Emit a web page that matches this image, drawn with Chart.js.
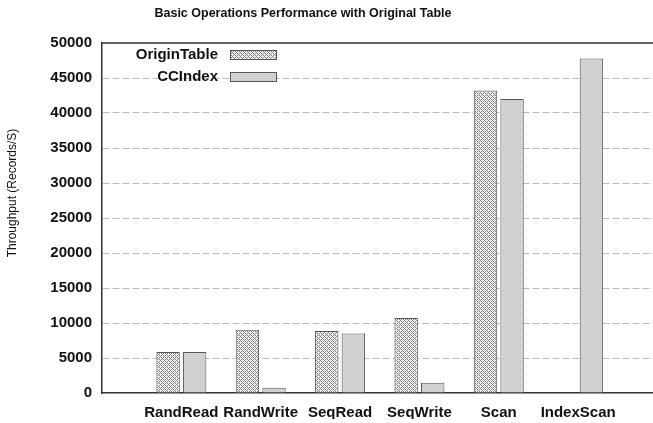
<!DOCTYPE html>
<html>
<head>
<meta charset="utf-8">
<script src="https://cdn.jsdelivr.net/npm/chart.js@4"></script>
<style>
  html, body { margin: 0; padding: 0; background: #fff; overflow: hidden; }
  #wrap { width: 668px; height: 423px; }
</style>
</head>
<body>
<div id="wrap"><canvas id="c" width="668" height="423"></canvas></div>
<script>
// Chart data
const chartTitle = 'Basic Operations Performance with Original Table';
const yTitle = 'Throughput (Records/S)';
const categories = ['RandRead', 'RandWrite', 'SeqRead', 'SeqWrite', 'Scan', 'IndexScan'];
const originTable = [5850, 9050, 8850, 10700, 43200, null];
const ccIndex = [5850, 750, 8500, 1450, 42000, 47800];
const yTicks = [0, 5000, 10000, 15000, 20000, 25000, 30000, 35000, 40000, 45000, 50000];

// x range runs one slot past the first and last category, like the original plot
const labels = ['', ...categories, ''];
const pad = arr => [null, ...arr, null];

// Fill patterns
function makePattern(size, draw) {
  const t = document.createElement('canvas');
  t.width = size; t.height = size;
  draw(t.getContext('2d'));
  return t.getContext('2d').createPattern(t, 'repeat');
}
const crossHatch = makePattern(4, g => {
  g.fillStyle = '#f2f2f2';
  g.fillRect(0, 0, 4, 4);
  g.fillStyle = '#808080';
  for (let x = 0; x < 4; x++) {
    for (let y = 0; y < 4; y++) {
      if ((x + y) % 4 === 0 || (x - y + 4) % 4 === 0) g.fillRect(x, y, 1, 1);
    }
  }
});
const stipple = makePattern(4, g => {
  g.fillStyle = '#d4d4d4';
  g.fillRect(0, 0, 4, 4);
  g.fillStyle = '#bdbdbd';
  g.fillRect(0, 0, 1, 1);
  g.fillRect(2, 2, 1, 1);
});

const font = (size, weight) => ({ family: '"Liberation Sans", Arial, sans-serif', size, weight });

// Titles, top frame line and in-plot legend
const extras = {
  id: 'extras',
  afterDraw(chart) {
    const { ctx, chartArea: a } = chart;
    ctx.save();
    ctx.fillStyle = '#111';
    ctx.font = 'bold 12.5px "Liberation Sans", Arial, sans-serif';
    ctx.textAlign = 'center';
    ctx.textBaseline = 'middle';
    ctx.fillText(chartTitle, 303, 14);

    // y axis title sits a bit above the plot's middle in the original
    ctx.save();
    ctx.translate(13, 193);
    ctx.rotate(-Math.PI / 2);
    ctx.font = '12px "Liberation Sans", Arial, sans-serif';
    ctx.fillText(yTitle, 0, 0);
    ctx.restore();

    ctx.strokeStyle = '#333';
    ctx.lineWidth = 1.5;
    ctx.beginPath();
    ctx.moveTo(a.left, a.top);
    ctx.lineTo(a.right, a.top);
    ctx.stroke();

    // legend: text on the left, swatch on the right
    ctx.font = 'bold 15px "Liberation Sans", Arial, sans-serif';
    ctx.textAlign = 'right';
    chart.data.datasets.forEach((ds, i) => {
      const y = 55 + i * 22;
      ctx.fillStyle = '#111';
      ctx.fillText(ds.label, 218, y);
      ctx.fillStyle = ds.backgroundColor;
      ctx.fillRect(230, y - 4.5, 46, 9);
      ctx.strokeStyle = '#555';
      ctx.lineWidth = 1;
      ctx.strokeRect(230.5, y - 4.5, 46, 9);
    });
    ctx.restore();
  }
};

new Chart(document.getElementById('c'), {
  type: 'bar',
  data: {
    labels: labels,
    datasets: [
      {
        label: 'OriginTable',
        data: pad(originTable),
        backgroundColor: crossHatch,
        borderColor: '#555',
        borderWidth: 1,
        categoryPercentage: 0.67,
        barPercentage: 0.88
      },
      {
        label: 'CCIndex',
        data: pad(ccIndex),
        backgroundColor: stipple,
        borderColor: '#555',
        borderWidth: 1,
        categoryPercentage: 0.67,
        barPercentage: 0.88
      }
    ]
  },
  options: {
    responsive: false,
    animation: false,
    devicePixelRatio: 1,
    layout: { padding: { top: 43, right: 5, bottom: 4, left: 0 } },
    plugins: {
      legend: { display: false },
      tooltip: { enabled: false },
      title: { display: false }
    },
    scales: {
      x: {
        offset: false,
        afterFit: s => { s.height = 26; },
        grid: { display: false, drawTicks: false },
        border: { display: true, color: '#333', width: 1.5 },
        ticks: {
          autoSkip: false,
          maxRotation: 0,
          padding: 10.5,
          color: '#111',
          font: font(15, 'bold')
        }
      },
      y: {
        min: 0,
        max: 50000,
        afterBuildTicks: s => { s.ticks = yTicks.map(v => ({ value: v })); },
        afterFit: s => { s.width = 102; },
        grid: {
          drawTicks: false,
          color: c => (c.tick && (c.tick.value === 0 || c.tick.value === 50000)) ? 'rgba(0,0,0,0)' : '#bdbdbd',
          lineWidth: 1
        },
        border: { display: true, color: '#333', width: 1.5, dash: [7, 3] },
        ticks: {
          padding: 10,
          color: '#111',
          font: font(15, 'bold'),
          callback: v => String(v)
        }
      }
    }
  },
  plugins: [extras]
});
</script>
</body>
</html>
